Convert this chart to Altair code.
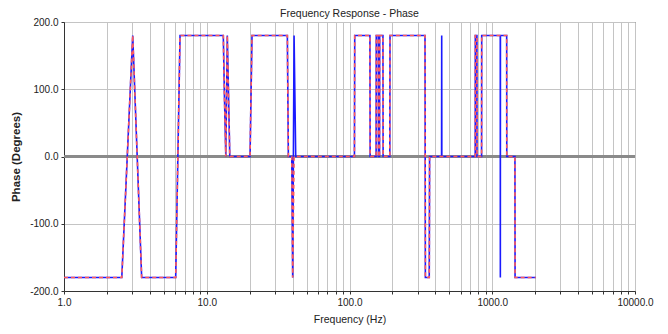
import altair as alt
import pandas as pd

# Blue solid series (frequency Hz, phase deg)
freq_blue = [1.0, 2.54, 3.03, 3.50, 6.06, 6.50, 13.06, 13.3, 13.6, 13.93, 14.5,
             20.1, 20.75, 36.7, 37.3, 39.4, 40.0, 40.9, 42.0, 108.3, 108.8,
             139.0, 139.5, 153.6, 154.0, 159.0, 159.5, 162.3, 162.7, 171.5, 172.0,
             191.6, 192.2, 338.0, 340.0, 362.0, 364.0, 441.5, 442.5, 443.5,
             760.0, 761.0, 781.0, 782.0, 842.0, 843.5, 1138.0, 1139.5, 1141.0,
             1262.0, 1264.0, 1442.0, 1445.0, 2015.0]
phase_blue = [-180, -180, 180, -180, -180, 180, 180, 90, 0, 180, 0,
              0, 180, 180, 0, 0, -180, 180, 0, 0, 180,
              180, 0, 0, 180, 180, 0, 0, 180, 180, 0,
              0, 180, 180, -180, -180, 0, 0, 180, 0,
              0, 180, 180, 0, 0, 180, 180, -180, 180,
              180, 0, 0, -180, -180]

# Red dashed series
freq_red = [1.0, 2.54, 3.03, 3.50, 6.06, 6.50, 13.06, 13.3, 13.6, 13.93, 14.5,
            20.1, 20.75, 36.7, 37.3, 39.4, 40.0, 40.9, 42.0, 108.3, 108.8,
            139.0, 139.5, 153.6, 154.0, 159.0, 159.5, 162.3, 162.7, 171.5, 172.0,
            191.6, 192.2, 338.0, 340.0, 362.0, 364.0,
            760.0, 761.0, 781.0, 782.0, 842.0, 843.5,
            1262.0, 1264.0, 1442.0, 1445.0, 2015.0]
phase_red = [-180, -180, 180, -180, -180, 180, 180, 90, 0, 180, 0,
             0, 180, 180, 0, 0, -180, 0, 0, 0, 180,
             180, 0, 0, 180, 180, 0, 0, 180, 180, 0,
             0, 180, 180, -180, -180, 0,
             0, 180, 180, 0, 0, 180,
             180, 0, 0, -180, -180]

x_ticks = [m * 10 ** d for d in range(4) for m in range(1, 10)] + [10000]
x_labels = [1, 10, 100, 1000, 10000]
y_ticks = [-200, -150, -100, -50, 0, 50, 100, 150, 200]

blue_df = pd.DataFrame({"freq": freq_blue, "phase": phase_blue, "i": range(len(freq_blue))})
red_df = pd.DataFrame({"freq": freq_red, "phase": phase_red, "i": range(len(freq_red))})

FONT = "Liberation Sans, Arial, sans-serif"

x_enc = alt.X("freq:Q", scale=alt.Scale(type="log", domain=[1, 10000], nice=False),
              axis=alt.Axis(values=x_ticks,
                            labelExpr="indexof([1,10,100,1000,10000], datum.value) >= 0 ? toString(datum.value) + '.0' : ''",
                            title="Frequency (Hz)", grid=True))
y_enc = alt.Y("phase:Q", scale=alt.Scale(domain=[-200, 200], nice=False),
              axis=alt.Axis(values=y_ticks,
                            labelExpr="datum.value % 100 == 0 ? toString(datum.value) + '.0' : ''",
                            title="Phase (Degrees)", grid=True, titleFontWeight="bold"))

zero = alt.Chart(blue_df).mark_rule(color="#8a8a8a", strokeWidth=2).encode(
    y=alt.datum(0, type="quantitative"))

blue = alt.Chart(blue_df).mark_line(color="#1a1aff", strokeWidth=1.6, interpolate="linear").encode(
    x=x_enc, y=y_enc, order="i:Q")
red = alt.Chart(red_df).mark_line(color="#ff5a5a", strokeWidth=1.6, strokeDash=[4, 3]).encode(
    x=x_enc, y=y_enc, order="i:Q")

chart = alt.layer(zero, blue, red).properties(
    width=571, height=269,
    title=alt.TitleParams("Frequency Response - Phase", fontSize=10.5, font=FONT,
                          fontWeight="normal", anchor="middle", offset=5, dy=7,
                          color="#222222", frame="group"),
    padding={"left": 56, "top": 14, "right": 25, "bottom": 35},
    autosize=alt.AutoSizeParams(type="none"),
).configure_view(stroke="#333333", strokeWidth=1).configure_axis(
    gridColor="#c4c4c4", gridWidth=1, domainColor="#333333", tickColor="#333333",
    tickSize=3, labelFont=FONT, labelFontSize=10, labelColor="#222222", labelPadding=3,
    titleFont=FONT, titleFontSize=10.5, titleColor="#222222", titleFontWeight="normal",
).configure_axisX(titlePadding=7, labelFlush=False).configure_axisY(
    titlePadding=8, titleFontSize=11.5
)

chart.save("out.html", embed_options={"renderer": "svg", "actions": False})
